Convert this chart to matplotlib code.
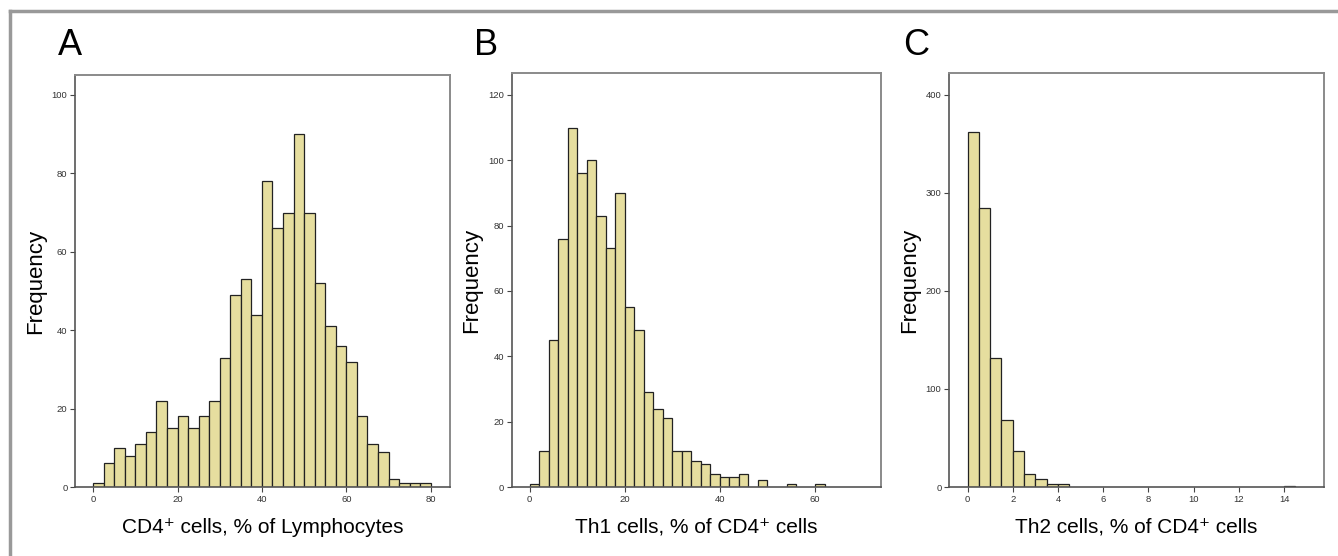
import matplotlib as mpl
mpl.use('agg')

import matplotlib.pyplot as plt
from matplotlib.lines import Line2D
import numpy as np

plt.rcParams['font.family'] = ['Liberation Sans', 'DejaVu Sans']

# panel A: CD4+ cells, bins of 2.5 starting at 0
cd4_width = 2.5
cd4_counts = [1, 6, 10, 8, 11, 14, 22, 15, 18, 15, 18, 22, 33, 49, 53, 44,
              78, 66, 70, 90, 70, 52, 41, 36, 32, 18, 11, 9, 2, 1, 1, 1]

# panel B: Th1 cells, bins of 2 starting at 0
th1_width = 2
th1_counts = [1, 11, 45, 76, 110, 96, 100, 83, 73, 90, 55, 48, 29, 24, 21,
              11, 11, 8, 7, 4, 3, 3, 4, 0, 2, 0, 0, 1, 0, 0, 1]

# panel C: Th2 cells, bins of 0.5 starting at 0
th2_width = 0.5
th2_counts = [362, 285, 132, 68, 37, 13, 8, 3, 3] + [0] * 19 + [1]

panels = [
    dict(letter='A', counts=cd4_counts, width=cd4_width,
         xlabel='CD4\u207a cells, % of Lymphocytes',
         xlim=(-4.3, 84.6), ylim=(0, 105.1),
         xticks=[0, 20, 40, 60, 80], yticks=[0, 20, 40, 60, 80, 100],
         rect=[0.0561, 0.1241, 0.2803, 0.7410], letter_x=0.043),
    dict(letter='B', counts=th1_counts, width=th1_width,
         xlabel='Th1 cells, % of CD4\u207a cells',
         xlim=(-3.8, 73.8), ylim=(0, 126.6),
         xticks=[0, 20, 40, 60], yticks=[0, 20, 40, 60, 80, 100, 120],
         rect=[0.3824, 0.1241, 0.2758, 0.7441], letter_x=0.354),
    dict(letter='C', counts=th2_counts, width=th2_width,
         xlabel='Th2 cells, % of CD4\u207a cells',
         xlim=(-0.82, 15.77), ylim=(0, 422),
         xticks=list(range(0, 15, 2)), yticks=[0, 100, 200, 300, 400],
         rect=[0.7093, 0.1241, 0.2803, 0.7441], letter_x=0.675),
]

bar_color = '#E6DE9F'

fig = plt.figure(figsize=(13.38, 5.56), dpi=100)

for p in panels:
    ax = fig.add_axes(p['rect'])
    counts = np.array(p['counts'])
    starts = np.arange(len(counts)) * p['width']
    keep = counts > 0
    ax.bar(starts[keep], counts[keep], width=p['width'], align='edge',
           color=bar_color, edgecolor='#222222', linewidth=0.9, zorder=2)

    ax.set_xlim(*p['xlim'])
    ax.set_ylim(*p['ylim'])
    ax.set_xticks(p['xticks'])
    ax.set_yticks(p['yticks'])
    ax.tick_params(direction='out', length=3.5, width=0.8, color='#444444',
                   labelsize=6.8, labelcolor='#333333', pad=2)

    for side in ['top', 'right']:
        ax.spines[side].set_color('#8a8a8a')
        ax.spines[side].set_linewidth(1.4)
    for side in ['left', 'bottom']:
        ax.spines[side].set_color('#555555')
        ax.spines[side].set_linewidth(1.2)

    ax.set_xlabel(p['xlabel'], fontsize=15, labelpad=10)
    ax.set_ylabel('Frequency', fontsize=16, labelpad=4)

    fig.text(p['letter_x'], 0.901, p['letter'], fontsize=26,
             ha='left', va='baseline')

# grey border around the figure (top and left edges visible)
fig.add_artist(Line2D([0.0075, 0.0075], [0.0, 0.980], color='#999999',
                      linewidth=2.5, transform=fig.transFigure))
fig.add_artist(Line2D([0.0075, 1.0], [0.980, 0.980], color='#999999',
                      linewidth=2.5, transform=fig.transFigure))

plt.savefig('out.png', dpi=100)
